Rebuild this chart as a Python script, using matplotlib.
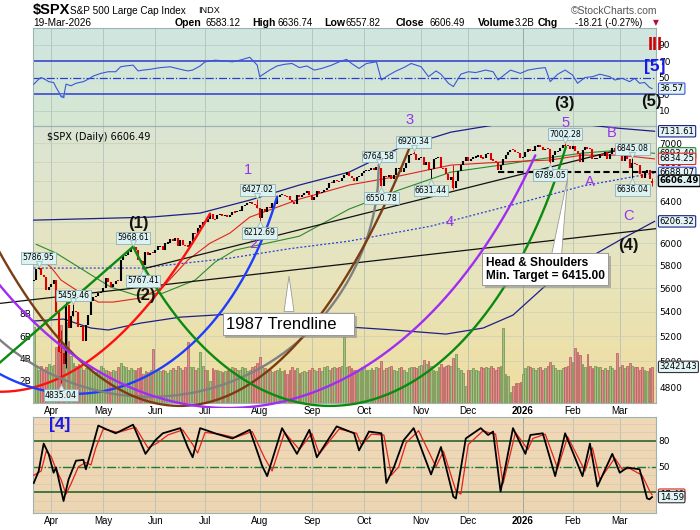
import numpy as np
import pandas as pd
import matplotlib
matplotlib.use("Agg")
import matplotlib.pyplot as plt
from matplotlib.patches import Rectangle, Polygon
from matplotlib.ticker import NullLocator
from matplotlib.colors import LinearSegmentedColormap
from matplotlib.transforms import offset_copy
import matplotlib.patheffects as pe

plt.rcParams['font.family'] = ['Liberation Sans', 'DejaVu Sans']

# ------------------------------------------------------------------ data
HOLIDAYS = ["2025-04-18", "2025-05-26", "2025-06-19", "2025-07-04", "2025-09-01",
            "2025-11-27", "2025-12-25", "2026-01-01", "2026-01-19", "2026-02-16"]
DATES = pd.bdate_range("2025-03-21", "2026-03-19", freq="C", holidays=HOLIDAYS)

CLOSE_2025 = [
    5667.56, 5767.57, 5776.65, 5712.20, 5693.31, 5580.94, 5611.85,
    5633.07, 5670.97, 5396.52, 5074.08, 5062.25, 4982.77, 5456.90, 5268.05, 5363.36, 5405.97,
    5396.63, 5275.70, 5282.70, 5158.20, 5287.76, 5375.86, 5484.77, 5525.21, 5528.75, 5560.83, 5569.06,
    5604.14, 5686.67, 5650.38, 5606.91, 5631.28, 5663.94, 5659.91, 5844.19, 5886.55, 5892.58,
    5916.93, 5958.38, 5963.60, 5940.46, 5844.61, 5842.01, 5802.82, 5921.54, 5888.55, 5912.17, 5911.69,
    5935.94, 5970.37, 5970.81, 5939.30, 6000.36, 6005.88, 6038.81, 6022.24, 6045.26, 5976.97,
    6033.11, 5982.72, 5980.87, 5967.84, 6025.17, 6092.18, 6092.16, 6141.02, 6173.07, 6204.95,
    6198.01, 6227.42, 6279.35, 6229.98, 6225.52, 6263.26, 6280.46, 6259.75, 6268.56, 6243.76,
    6263.70, 6297.36, 6296.79, 6305.60, 6309.62, 6358.91, 6363.35, 6388.64, 6389.77, 6370.86, 6362.90, 6339.39,
    6238.01, 6329.94, 6299.19, 6345.06, 6340.00, 6389.45, 6373.45, 6445.76, 6466.58, 6468.54,
    6449.80, 6449.15, 6411.37, 6395.78, 6370.17, 6466.91, 6439.32, 6465.94, 6481.40, 6501.86, 6460.26,
    6415.54, 6448.26, 6502.08, 6481.50, 6495.15, 6512.61, 6532.04, 6587.47, 6584.29, 6615.28,
    6606.76, 6600.35, 6631.96, 6664.36, 6693.75, 6656.92, 6637.97, 6604.72, 6643.70, 6661.21, 6688.46,
    6711.20, 6715.35, 6715.79, 6740.28, 6714.59, 6753.72, 6735.11, 6552.51, 6654.72, 6644.31,
    6671.06, 6629.07, 6664.01, 6735.13, 6735.35, 6699.40, 6738.44, 6791.69, 6875.16, 6890.89,
    6890.59, 6822.34, 6840.20,
    6851.97, 6771.55, 6796.29, 6720.32, 6728.80, 6832.43, 6846.61, 6850.92, 6737.49, 6734.11,
    6672.41, 6617.32, 6642.16, 6538.76, 6602.99, 6705.12, 6765.88, 6812.61, 6849.09,
    6812.63, 6829.37, 6849.72, 6857.12, 6870.40, 6846.51, 6840.51, 6886.68, 6901.00, 6827.41,
    6816.51, 6800.26, 6721.43, 6774.76, 6834.50, 6878.49, 6909.79, 6932.05, 6929.94, 6905.74,
    6896.24, 6845.50]
CLOSE_2026 = [
    6858, 6902, 6944, 6921, 6921, 6966, 6977, 6963, 6926, 6944, 6940, 6797, 6875, 6913, 6916,
    6950, 6979, 6978, 6969, 6939,
    6976, 6917, 6883, 6798, 6932, 6965, 6942, 6941, 6833, 6836, 6843, 6881, 6861, 6909, 6837,
    6890, 6946, 6908, 6879,
    6881, 6816, 6869, 6830, 6740, 6795, 6781, 6775, 6672, 6632, 6699, 6716, 6624.70, 6606.49]
PREV_CLOSE = 5662.89
LAST_OPEN = 6583.12

VOL_2025 = [
    6.8, 3.3, 3.0, 3.3, 2.9, 3.2, 3.5,
    3.3, 3.4, 5.0, 6.6, 7.0, 5.3, 7.3, 5.6, 4.2, 3.6, 3.3, 3.5, 3.2, 3.0, 3.1, 3.2, 3.2, 2.9, 2.8, 3.0, 3.3,
    3.1, 3.0, 2.9, 2.8, 3.0, 2.9, 3.2, 3.6, 3.3, 3.2, 3.0, 3.1, 3.0, 3.0, 3.1, 3.2, 2.6, 2.9, 2.8, 3.0, 4.8,
    2.9, 3.0, 2.9, 3.0, 2.9, 2.7, 3.0, 3.1, 3.0, 3.3, 3.1, 3.0, 3.2, 5.5, 3.2, 3.2, 3.0, 3.1, 4.6, 3.3,
    3.0, 3.0, 2.0, 3.1, 3.0, 3.0, 2.9, 2.8, 2.9, 3.0, 2.9, 3.2, 3.1, 3.0, 3.0, 3.2, 3.1, 2.9, 3.0, 3.2, 3.3, 3.6,
    4.1, 3.3, 3.1, 3.0, 3.0, 2.8, 2.9, 3.0, 3.1, 2.9, 3.0, 2.6, 3.0, 3.2, 3.0, 3.1, 2.7, 2.8, 2.9, 2.8, 3.0,
    3.1, 3.0, 2.9, 3.1, 2.9, 3.2, 3.3, 3.0, 3.1, 3.2, 3.1, 3.2, 3.3, 5.9, 3.2, 3.3, 3.1, 3.0, 3.0, 2.9, 3.2,
    3.2, 3.0, 3.0, 3.1, 3.0, 3.2, 3.1, 3.8, 3.0, 3.1, 3.2, 3.3, 3.0, 2.9, 3.1, 3.2, 3.0, 2.8, 3.1, 3.2, 3.2, 3.1, 3.3,
    3.4, 3.9, 3.5, 3.8, 3.3, 3.0, 2.9, 3.2, 3.5, 3.2, 3.3, 3.4, 3.3, 4.0, 4.4, 3.1, 3.0, 2.7, 1.5,
    3.0, 3.0, 3.1, 3.0, 2.9, 3.2, 3.1, 3.2, 3.1, 3.3, 3.1, 3.0, 3.2, 3.3, 6.7, 2.6, 2.4, 1.0, 1.5, 1.8, 1.8, 1.9]
VOL_2026 = [
    2.6, 3.1, 3.3, 3.2, 3.1, 3.0, 3.1, 3.2, 3.0, 3.1, 3.3, 3.7, 3.4, 3.1, 3.0, 3.0, 3.1, 3.2, 3.3, 4.1,
    3.7, 4.9, 4.6, 4.3, 3.5, 3.2, 4.4, 3.3, 3.1, 3.3, 3.2, 3.2, 3.0, 3.1, 3.0, 3.3, 3.1, 3.0, 4.5,
    3.2, 3.4, 3.1, 3.3, 3.6, 3.3, 3.2, 3.2, 3.0, 3.2, 3.0, 2.9, 3.1, 3.242143]

# (date, low, high) of the bars that carry a price flag
PIVOTS = [("2025-03-25", None, 5786.95), ("2025-04-07", 4835.04, 5246.41),
          ("2025-04-09", 4948.43, 5481.34), ("2025-04-14", None, 5459.46),
          ("2025-05-19", None, 5968.61), ("2025-05-23", 5767.41, None),
          ("2025-07-31", None, 6427.02), ("2025-08-01", 6212.69, None),
          ("2025-10-09", None, 6764.58), ("2025-10-10", 6550.78, None),
          ("2025-10-29", None, 6920.34), ("2025-11-07", 6631.44, None),
          ("2025-11-20", 6521.92, 6770.00), ("2026-01-20", 6789.05, None),
          ("2026-01-28", None, 7002.28), ("2026-03-09", 6636.04, 6845.08),
          ("2026-03-19", 6557.82, 6636.74)]
FLAGS = [("2025-03-25", 5786.95, "above"), ("2025-04-07", 4835.04, "below"),
         ("2025-04-14", 5459.46, "above"), ("2025-05-19", 5968.61, "above"),
         ("2025-05-23", 5767.41, "below"), ("2025-07-31", 6427.02, "above"),
         ("2025-08-01", 6212.69, "below"), ("2025-10-09", 6764.58, "above"),
         ("2025-10-10", 6550.78, "below"), ("2025-10-29", 6920.34, "above"),
         ("2025-11-07", 6631.44, "below"), ("2026-01-28", 7002.28, "above"),
         ("2026-01-20", 6789.05, "below"), ("2026-03-09", 6845.08, "above"),
         ("2026-03-09", 6636.04, "below")]

# overlays (trading-day index, Apr 1 2025 = 0)
UPPER_DAY = [-7, 40, 60, 80, 100, 120, 140, 161, 178, 185, 193, 200, 209, 217, 228, 243]
UPPER_VAL = [6218, 6247, 6286, 6413, 6564, 6696, 6948, 7122, 7199, 7245, 7255, 7210, 7210, 7199, 7166, 7131.61]
LOWER_DAY = [-7, 5, 16, 23, 36, 52, 72, 96, 120, 138, 159, 174, 186, 198, 206, 217, 229, 243]
LOWER_VAL = [5322, 5338, 5265, 5249, 5305, 5354, 5379, 5330, 5273, 5249, 5216, 5265, 5371, 5599, 5757, 5873, 6029, 6206.32]
MA200_DAY = [-7, 36, 72, 96, 120, 153, 187, 214, 243]
MA200_VAL = [5775, 5775, 5864, 5950, 6020, 6161, 6374, 6554, 6688.07]
MA50_DAY = [-6, 0, 4, 12, 19, 25, 36, 45, 55, 64, 72, 80, 100, 120, 140, 161, 181, 201, 214, 229, 243]
MA50_VAL = [5891, 5781, 5669, 5556, 5480, 5480, 5514, 5608, 5846, 6001, 6095, 6247, 6423, 6564,
            6655, 6769, 6800, 6822, 6874, 6874, 6834.25]
MA100_DAY = [-6, 2, 13, 24, 34, 45, 58, 66, 74, 100, 120, 140, 161, 181, 194, 214, 229, 243]
MA100_VAL = [5990, 5910, 5757, 5608, 5539, 5556, 5669, 5828, 5937, 6066, 6325, 6513, 6696, 6769,
             6822, 6895, 6927, 6893]

RSI_DAY = [-7, -5, -4, -2, -1, 1, 2, 3, 4, 5, 6, 8, 10, 13, 15, 17, 20, 23, 26, 28, 30, 33, 35, 37,
           40, 44, 48, 52, 55, 57, 60, 62, 66, 70, 73, 76, 80, 83, 84, 88, 91, 94, 97, 100, 103,
           106, 109, 113, 116, 119, 121, 124, 127, 131, 133, 136, 139, 142, 145, 149, 152, 155,
           157, 160, 162, 165, 168, 171, 175, 178, 180, 182, 185, 189, 192, 196, 199, 201, 204,
           207, 210, 212, 215, 218, 221, 225, 227, 230, 233, 235, 237, 239, 241, 242]
RSI_VAL = [41.8, 48, 50, 47, 45, 44, 38, 33, 27, 26, 42, 40, 43, 45, 48, 51.8, 55, 57, 57, 63, 64,
           65, 58, 59, 60, 62, 63, 60, 58, 59, 64, 69, 71, 70, 69, 71, 74.5, 65, 51, 59, 64, 66,
           67, 62, 64, 59, 61, 65, 69, 72, 67, 61, 67, 69, 47, 53, 58, 62, 67, 63, 51, 58, 54,
           43, 39, 54, 57, 56, 59, 57, 47, 52, 59, 55, 59, 61, 62, 45, 54, 59, 53, 43, 50, 51,
           54, 51, 47, 49, 45, 49, 43, 44, 38, 36.57]

STOCH_K_DAY = [-7, -5, -3, -1, 1, 2, 5, 7, 10, 13, 14, 17, 19, 22, 26, 33, 38, 42, 45, 52, 55, 57,
               60, 67, 73, 80, 85, 87, 93, 99, 104, 107, 115, 122, 124, 128, 133, 135, 138, 142,
               146, 153, 157, 162, 163, 167, 173, 176, 178, 181, 186, 191, 193, 198, 203, 207,
               214, 217, 220, 226, 229, 232, 237, 240, 241, 242]
STOCH_K = [31, 45, 77, 65, 43, 49, 10, 35, 57, 58, 47, 77, 98, 94, 89, 99, 65, 81, 89, 95, 73, 61,
           95, 88, 83, 93, 51, 39, 95, 65, 93, 61, 97, 89, 69, 91, 89, 31, 49, 81, 95, 41, 73, 15,
           13, 83, 95, 87, 91, 21, 95, 65, 87, 89, 39, 89, 39, 77, 27, 65, 43, 49, 47, 13, 12, 14.59]
STOCH_D_DAY = [-7, -4, -2, 0, 2, 4, 6, 8, 11, 14, 16, 18, 21, 27, 34, 39, 43, 47, 53, 57, 59, 62,
               68, 74, 81, 86, 89, 94, 100, 105, 108, 116, 123, 125, 129, 134, 137, 140, 143, 148,
               155, 158, 163, 165, 168, 174, 177, 179, 182, 187, 192, 194, 199, 204, 208, 215,
               218, 221, 227, 230, 233, 238, 241, 242]
STOCH_D = [40, 45, 68, 62, 47, 35, 18, 30, 50, 55, 52, 72, 94, 90, 96, 72, 78, 87, 93, 76, 66, 90,
           88, 84, 91, 60, 45, 90, 70, 89, 65, 94, 89, 75, 88, 87, 40, 50, 78, 92, 50, 68, 22, 18,
           76, 92, 89, 88, 30, 90, 70, 83, 88, 48, 85, 45, 72, 35, 60, 47, 48, 40, 22, 17.4]

PRICE_TICKS = [4800, 5000, 5200, 5400, 5600, 5800, 6000, 6200, 6400, 6600, 6800, 7000]
VOL_TICKS = [2, 4, 6, 8]

# hand-drawn annotations: (colour, vertex day, vertex price, half width days, height ln, from, to)
ARCS = [("#ff1010", -20.5, 4772, 241.4, 4.342, -30, 64),
        ("#1f3cff", 9.7, 4757, 88.5, 0.5026, -30, 91),
        ("#808080", 39.8, 4735, 92.2, 0.3587, -40, 132),
        ("#7a3d12", 51.9, 4669, 165.0, 2.3195, -30, 145),
        ("#a02cf5", 71.2, 4654, 152.9, 0.9433, -30, 195),
        ("#0b8a10", 112.3, 4669, 108.65, 0.7763, 33, 207.3)]
GREEN_LEG = ([-20.5, 33], [4994, 5968.61])
TREND_1987 = ([-20.5, 243.6], [5469, 6137])
TREND_UP = ([37, 231], [5767.41, 6945])
NECKLINE = ([180, 243.6], [6695, 6695])

WAVES_BLACK = [("(1)", 35, 6189), ("(2)", 37.8, 5539), ("(3)", 206.8, 7449),
               ("(4)", 232.6, 5983), ("(5)", 241.9, 7472)]
WAVES_PURPLE = [("1", 79.3, 6719), ("2", 81.3, 5992), ("3", 144.5, 7255), ("4", 160.6, 6199),
                ("5", 207.2, 7222), ("A", 216.9, 6594), ("B", 225.8, 7111), ("C", 232.6, 6257)]

# ------------------------------------------------------------------ prep
CLOSE = CLOSE_2025 + CLOSE_2026
VOLUME = VOL_2025 + VOL_2026
n = min(len(DATES), len(CLOSE), len(VOLUME))
DATES = DATES[:n]
close = np.array(CLOSE[:n], float)
vol = np.array(VOLUME[:n], float)
base = int(np.where(DATES == pd.Timestamp("2025-04-01"))[0][0])
day = np.arange(n) - base


def dpos(s):
    return int(np.where(DATES == pd.Timestamp(s))[0][0]) - base


prev = np.concatenate([[PREV_CLOSE], close[:-1]])
opn = prev.copy()
opn[-1] = LAST_OPEN
up = close >= prev

XLIM = (-7.3, 243.6)
PLO, PHI = 4690, 7193
VOL_TOP = 24.87

fig = plt.figure(figsize=(7.0, 5.3), dpi=100)
fig.patch.set_facecolor("white")


def frect(x0, y0, x1, y1):
    return [x0 / 700, 1 - y1 / 530, (x1 - x0) / 700, (y1 - y0) / 530]


ax_top = fig.add_axes(frect(33, 28, 656, 125.7))
ax_vol = fig.add_axes(frect(33, 125.7, 656, 403))
ax = fig.add_axes(frect(33, 125.7, 656, 403))
ax_bot = fig.add_axes(frect(33, 417, 656, 513))
ax_vol.set_zorder(1)
ax.set_zorder(2)
ax_top.set_zorder(1.5)
ax.patch.set_visible(False)


def paint(a, cols):
    cmap = LinearSegmentedColormap.from_list("bg", cols)
    a.imshow(np.linspace(0, 1, 200).reshape(-1, 1), extent=(0, 1, 0, 1), transform=a.transAxes,
             aspect="auto", cmap=cmap, origin="upper", zorder=-20, interpolation="bilinear")


paint(ax_top, ["#cfe5e0", "#d6e7d2"])
paint(ax_vol, ["#dbe4d4", "#e7e5bf", "#f0dd9e"])
paint(ax_bot, ["#efd9b8", "#ecd5b2"])

# month grid
month_x, month_lbl = [], []
seen = set()
for i, d in enumerate(DATES):
    key = (d.year, d.month)
    if key not in seen:
        seen.add(key)
        if i > 0:
            month_x.append(day[i])
            month_lbl.append(str(d.year) if d.month == 1 else d.strftime("%b"))

for a in (ax_top, ax_vol, ax_bot):
    for x, lb in zip(month_x, month_lbl):
        a.axvline(x, color="#8f9d99" if lb == "2026" else "#b4c1bd", lw=0.6, zorder=-5)

SPINE = "#9fb1b1"
for a in (ax_top, ax, ax_bot):
    for s in a.spines.values():
        s.set_color(SPINE)
        s.set_linewidth(0.8)
for s in ax_vol.spines.values():
    s.set_visible(False)

# ------------------------------------------------------------------ top panel (RSI)
ax_top.set_xlim(XLIM)
ax_top.set_ylim(-8.4, 110)
for lv in (10, 90):
    ax_top.axhline(lv, color="#b5c8c2", lw=0.5, zorder=-4)
ax_top.axhline(70, color="#2c3ccf", lw=1.1, zorder=2)
ax_top.axhline(30, color="#2c3ccf", lw=1.1, zorder=2)
ax_top.axhline(50, color="#2c3ccf", lw=0.9, ls="-.", zorder=2)
rd = np.array(RSI_DAY, float)
rv = np.array(RSI_VAL, float)
ax_top.fill_between(rd, rv, 30, where=rv < 30, interpolate=True, color="#8fb1e4", zorder=2.5)
ax_top.plot(rd, rv, color="#3a57d6", lw=0.8, zorder=3)
ax_top.yaxis.tick_right()
ax_top.set_yticks([10, 30, 50, 70, 90])
ax_top.set_xticks([])
ax_top.tick_params(axis="y", length=0, pad=2, labelsize=6.5)
for t in ax_top.get_yticklabels():
    t.set_family("DejaVu Sans")

# ------------------------------------------------------------------ volume panel
ax_vol.set_xlim(XLIM)
ax_vol.set_ylim(0, VOL_TOP)
for p in PRICE_TICKS:
    yf = (np.log(p) - np.log(PLO)) / (np.log(PHI) - np.log(PLO))
    ax_vol.axhline(yf * VOL_TOP, color="#cbd0b4", lw=0.5, zorder=-4)
vfc = np.where(up, "#a3bf83", "#de9090")
vec = np.where(up, "#6d8f4e", "#b55a5a")
ax_vol.bar(day, vol, width=0.74, color=vfc, edgecolor=vec, linewidth=0.5, zorder=2)
ax_vol.set_yticks(VOL_TICKS)
ax_vol.set_yticklabels([f"{v}B" for v in VOL_TICKS])
ax_vol.set_xticks([])
ax_vol.tick_params(axis="y", length=0, pad=1.5, labelsize=6.5)
for t in ax_vol.get_yticklabels():
    t.set_family("DejaVu Sans")

# ------------------------------------------------------------------ price panel
ax.set_yscale("log")
ax.set_xlim(XLIM)
ax.set_ylim(PLO, PHI)
ax.yaxis.tick_right()
ax.set_yticks(PRICE_TICKS)
ax.set_yticklabels([str(p) for p in PRICE_TICKS])
ax.yaxis.set_minor_locator(NullLocator())
ax.tick_params(axis="y", length=0, pad=2.5, labelsize=6.5)
ax.set_xticks(month_x)
ax.set_xticklabels(month_lbl)
ax.tick_params(axis="x", length=0, pad=2, labelsize=7)
for t in ax.get_yticklabels():
    t.set_family("DejaVu Sans")
for t in ax.get_xticklabels():
    if t.get_text() == "2026":
        t.set_fontweight("bold")

CLIP = Rectangle((0, 1 - 408 / 530), 656 / 700, (408 - 125.7) / 530, transform=fig.transFigure)

# bands and averages
ax.plot(UPPER_DAY, UPPER_VAL, color="#1c1f8a", lw=0.9, zorder=3)
ax.plot(LOWER_DAY, LOWER_VAL, color="#1c1f8a", lw=0.9, zorder=3)
ax.plot(MA200_DAY, MA200_VAL, color="#2a40d0", lw=0.9, ls=(0, (1.6, 1.6)), zorder=3)
ax.plot(MA100_DAY, MA100_VAL, color="#2a8a2a", lw=0.8, zorder=3)
ax.plot(MA50_DAY, MA50_VAL, color="#e3231e", lw=0.8, zorder=3)

# trendlines
for xs, ys in (TREND_1987, TREND_UP):
    ln, = ax.plot(xs, ys, color="#111111", lw=0.9, zorder=4)
    ln.set_clip_path(CLIP)
ax.plot(NECKLINE[0], NECKLINE[1], color="black", lw=1.5, dashes=(3, 1.6), zorder=4)

# candles
lo = np.minimum(opn, close)
hi = np.maximum(opn, close)
thin = hi / lo < 1.0018
mid = np.sqrt(hi * lo)
lo = np.where(thin, mid / 1.0009, lo)
hi = np.where(thin, mid * 1.0009, hi)
ccol = np.where(up, "#000000", "#e00000")
for ds, l, h in PIVOTS:
    k = dpos(ds)
    j = k + base
    wl = l if l is not None else lo[j]
    wh = h if h is not None else hi[j]
    ax.vlines(k, wl, wh, colors=ccol[j], lw=0.7, zorder=4)
ax.vlines(day, lo, hi, colors=ccol, lw=1.5, zorder=4)

# arcs
for col, vd, vp, a_d, b_l, d0, d1 in ARCS:
    dd = np.linspace(d0, d1, 400)
    u = np.clip(1 - ((dd - vd) / a_d) ** 2, 0, 1)
    pp = np.exp(np.log(vp) + b_l * (1 - np.sqrt(u)))
    ln, = ax.plot(dd, pp, color=col, lw=1.7, zorder=5, solid_capstyle="round")
    ln.set_clip_path(CLIP)
ln, = ax.plot(GREEN_LEG[0], GREEN_LEG[1], color="#0b8a10", lw=1.7, zorder=5)
ln.set_clip_path(CLIP)

# price flags
BOXFC, BOXEC = "#dcf1f1", "#8fb2b2"
for ds, p, where in FLAGS:
    k = dpos(ds)
    off = 9 if where == "above" else -12
    ax.annotate(f"{p:.2f}", xy=(k, p), xytext=(0, off * 0.72), textcoords="offset points",
                ha="center", va="center", fontsize=5.6, family="DejaVu Sans",
                bbox=dict(boxstyle="square,pad=0.18", fc=BOXFC, ec=BOXEC, lw=0.6),
                zorder=9, annotation_clip=False)
    tr = offset_copy(ax.transData, fig=fig, x=0, y=(3.2 if where == "above" else -3.5) * 0.72,
                     units="points")
    ax.plot([k], [p], marker="v" if where == "above" else "^", ms=4, mfc=BOXFC, mec=BOXEC,
            mew=0.5, transform=tr, zorder=9.5, clip_on=False)

# wave labels
for t, d, p in WAVES_BLACK:
    ax.text(d, p, t, fontsize=12, fontweight="bold", color="#111111", ha="center", va="center",
            zorder=8, clip_on=False)
for t, d, p in WAVES_PURPLE:
    ax.text(d, p, t, fontsize=10.5, color="#9a2ff0", ha="center", va="center", zorder=8,
            clip_on=False)

# callouts
tail = Polygon([[93.8, 5401], [97.8, 5401], [95.8, 5704]], closed=True, fc="white", ec="#9a9a9a",
               lw=0.6, zorder=10)
ax.add_patch(tail)
t87 = ax.text(70.5, 5297, "1987 Trendline   ", fontsize=12, ha="left", va="center", zorder=11,
              bbox=dict(boxstyle="square,pad=0.22", fc="white", ec="#9a9a9a", lw=0.7))
tail2 = Polygon([[201.6, 5900], [205.6, 5900], [208.0, 6634]], closed=True, fc="white",
                ec="#9a9a9a", lw=0.6, zorder=10)
ax.add_patch(tail2)
ths = ax.text(175.0, 5878, "Head & Shoulders\nMin. Target = 6415.00", fontsize=8.6,
              fontweight="bold", ha="left", va="top", linespacing=1.1, zorder=11,
              bbox=dict(boxstyle="square,pad=0.3", fc="white", ec="#9a9a9a", lw=0.7))
for tx in (t87, ths):
    tx.get_bbox_patch().set_path_effects([pe.withSimplePatchShadow(offset=(2, -2),
                                                                  shadow_rgbFace="#8c8c8c",
                                                                  alpha=0.6), pe.Normal()])

ax.text(0.022, 0.977, "$SPX (Daily) 6606.49", transform=ax.transAxes, fontsize=7,
        family="DejaVu Sans", ha="left", va="top", zorder=8)


# right-hand value flags
def side_flag(a, y, text, ec, bold=False, fs=6.1, ycoords="data", z=20):
    a.annotate(text, xy=(1, y), xycoords=("axes fraction", ycoords), xytext=(2.6, 0),
               textcoords="offset points", ha="left", va="center", fontsize=fs,
               fontweight="bold" if bold else "normal", family="DejaVu Sans",
               bbox=dict(boxstyle="round,pad=0.14", fc="#e2f4f6", ec=ec, lw=0.8 if not bold else 1.0),
               annotation_clip=False, zorder=z)


side_flag(ax, UPPER_VAL[-1], "7131.61", "#1c1f8a")
side_flag(ax, MA100_VAL[-1], "6893.40", "#2a8a2a", z=19)
side_flag(ax, MA50_VAL[-1], "6834.25", "#e3231e", z=20)
side_flag(ax, MA200_VAL[-1], "6688.07", "#2a40d0", z=21)
side_flag(ax, close[-1], f"{close[-1]:.2f}", "black", bold=True, fs=6.2, z=22)
side_flag(ax, LOWER_VAL[-1], "6206.32", "#1c1f8a")
side_flag(ax, vol[-1] / VOL_TOP, "3242143", "#333333", ycoords="axes fraction", z=22)
side_flag(ax_top, RSI_VAL[-1], f"{RSI_VAL[-1]:.2f}", "#3a57d6")

# ------------------------------------------------------------------ bottom panel (stochastics)
ax_bot.set_xlim(XLIM)
ax_bot.set_ylim(-4, 108)
for lv in range(0, 101, 10):
    ax_bot.axhline(lv, color="#dec7a6", lw=0.5, zorder=-4)
ax_bot.axhline(80, color="#1d5c22", lw=1.1, zorder=2)
ax_bot.axhline(20, color="#1d5c22", lw=1.1, zorder=2)
ax_bot.axhline(50, color="#1d7a36", lw=1.0, ls="-.", zorder=2)
ax_bot.plot(STOCH_D_DAY, STOCH_D, color="#e8201a", lw=0.9, zorder=3)
ax_bot.plot(STOCH_K_DAY, STOCH_K, color="black", lw=1.3, zorder=4)
ax_bot.yaxis.tick_right()
ax_bot.set_yticks([20, 50, 80])
ax_bot.set_xticks(month_x)
ax_bot.set_xticklabels(month_lbl)
ax_bot.tick_params(axis="y", length=0, pad=2, labelsize=6.5)
ax_bot.tick_params(axis="x", length=0, pad=2, labelsize=7)
for t in ax_bot.get_yticklabels():
    t.set_family("DejaVu Sans")
for t in ax_bot.get_xticklabels():
    if t.get_text() == "2026":
        t.set_fontweight("bold")
side_flag(ax_bot, STOCH_D[-1], f"{STOCH_D[-1]:.2f}", "#e8201a", z=19)
side_flag(ax_bot, STOCH_K[-1], f"{STOCH_K[-1]:.2f}", "#333333", z=20)

# ------------------------------------------------------------------ header & big labels
def fx(px):
    return px / 700


def fy(py):
    return 1 - py / 530


fig.text(fx(33), fy(10), "$SPX", fontsize=10.5, fontweight="bold", va="center")
fig.text(fx(70), fy(10.5), "S&P 500 Large Cap Index", fontsize=7.2, va="center")
fig.text(fx(198), fy(10.5), "INDX", fontsize=6.6, va="center")
fig.text(fx(657), fy(10.5), "©StockCharts.com", fontsize=7.5, color="#555555", ha="right",
         va="center")
fig.text(fx(33), fy(23), "19-Mar-2026", fontsize=7.3, va="center")
HEAD = [("Open", 175, True), ("6583.12", 206, False), ("High", 252, True), ("6636.74", 278, False),
        ("Low", 324, True), ("6557.82", 346, False), ("Close", 396, True), ("6606.49", 430, False),
        ("Volume", 478, True), ("3.2B", 515, False), ("Chg", 538, True),
        ("-18.21 (-0.27%)", 575, False)]
for t, x, b in HEAD:
    fig.text(fx(x), fy(23), t, fontsize=7.6 if b else 7.0, fontweight="bold" if b else "normal",
             va="center")
fig.text(fx(653), fy(23), "▼", fontsize=5.5, color="#b01030", va="center", family="DejaVu Sans")

fig.text(fx(60), fy(425), "[4]", fontsize=12.5, fontweight="bold", color="#1a1ae6", ha="center",
         va="center", zorder=30)
fig.text(fx(655), fy(67), "[5]", fontsize=12.5, fontweight="bold", color="#1a1ae6", ha="center",
         va="center", zorder=30)
fig.text(fx(655.5), fy(45), "III", fontsize=13, fontweight="bold", color="#cc0000", ha="center",
         va="center", zorder=30)

fig.savefig("out.png", dpi=100, facecolor="white")
